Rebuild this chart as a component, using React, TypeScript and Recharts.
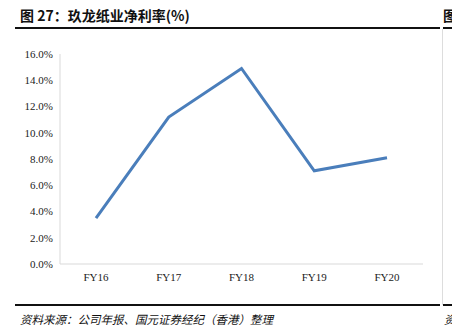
import React from "react";
import { LineChart, Line, XAxis, YAxis } from "recharts";

const categories = ["FY16", "FY17", "FY18", "FY19", "FY20"];
const netMargin = [3.5, 11.2, 14.9, 7.1, 8.1];
const yTicks = [0, 2, 4, 6, 8, 10, 12, 14, 16];
const boundaryTicks = [1, 2, 3, 4, 5];

const data = categories.map((c, i) => ({ name: c, v: netMargin[i], idx: i + 0.5 }));

const serif = "'Liberation Serif', 'Times New Roman', serif";
const cjk = "'Noto Sans CJK SC', sans-serif";

export default function App() {
  return (
    <div style={{ position: "absolute", left: 0, top: 0, width: 452, height: 335, background: "#fff", overflow: "hidden" }}>
      <div style={{ position: "absolute", left: 20, top: 5, fontFamily: cjk, fontWeight: 700, fontSize: 14, color: "#111", whiteSpace: "nowrap" }}>
        图 27：玖龙纸业净利率(%)
      </div>
      <div style={{ position: "absolute", left: 443, top: 5, width: 9, overflow: "hidden", fontFamily: cjk, fontWeight: 700, fontSize: 14, color: "#111" }}>图</div>
      <div style={{ position: "absolute", left: 15, top: 27, width: 425, height: 2, background: "#111" }} />
      <div style={{ position: "absolute", left: 443, top: 27, width: 9, height: 2, background: "#111" }} />
      <div style={{ position: "absolute", left: 442, top: 29, width: 1, height: 276, background: "#ddd" }} />
      <div style={{ position: "absolute", left: 15, top: 304, width: 425, height: 2, background: "#111" }} />
      <div style={{ position: "absolute", left: 443, top: 304, width: 9, height: 2, background: "#111" }} />
      <div style={{ position: "absolute", left: 20, top: 311, fontFamily: cjk, fontStyle: "italic", fontSize: 11.5, color: "#111", whiteSpace: "nowrap" }}>
        资料来源：公司年报、国元证券经纪（香港）整理
      </div>
      <div style={{ position: "absolute", left: 444, top: 311, width: 8, overflow: "hidden", fontFamily: cjk, fontStyle: "italic", fontSize: 11.5, color: "#111" }}>资</div>
      <div style={{ position: "absolute", left: 0, top: 0 }}>
        <LineChart width={452} height={335} data={data} margin={{ top: 54, right: 29, bottom: 46, left: 10 }}>
          <XAxis
            dataKey="name"
            padding={{ left: 36, right: 36 }}
            axisLine={{ stroke: "#d9d9d9" }}
            tickLine={false}
            tickSize={0}
            tickMargin={9}
            height={25}
            tick={{ fontFamily: serif, fontSize: 11, fill: "#222" }}
          />
          <XAxis
            xAxisId="grid"
            type="number"
            dataKey="idx"
            domain={[0, 5]}
            allowDataOverflow
            ticks={boundaryTicks}
            mirror
            axisLine={false}
            tickLine={{ stroke: "#d9d9d9" }}
            tickSize={4}
            height={0}
            tickFormatter={() => ""}
          />
          <YAxis
            domain={[0, 16]}
            ticks={yTicks}
            width={50}
            axisLine={{ stroke: "#d9d9d9" }}
            tickLine={false}
            tickSize={5}
            tickMargin={2}
            tickFormatter={(v: number) => v.toFixed(1) + "%"}
            tick={{ fontFamily: serif, fontSize: 11, fill: "#222" }}
          />
          <Line type="linear" dataKey="v" stroke="#4a7ebb" strokeWidth={3} dot={false} isAnimationActive={false} />
        </LineChart>
      </div>
    </div>
  );
}
